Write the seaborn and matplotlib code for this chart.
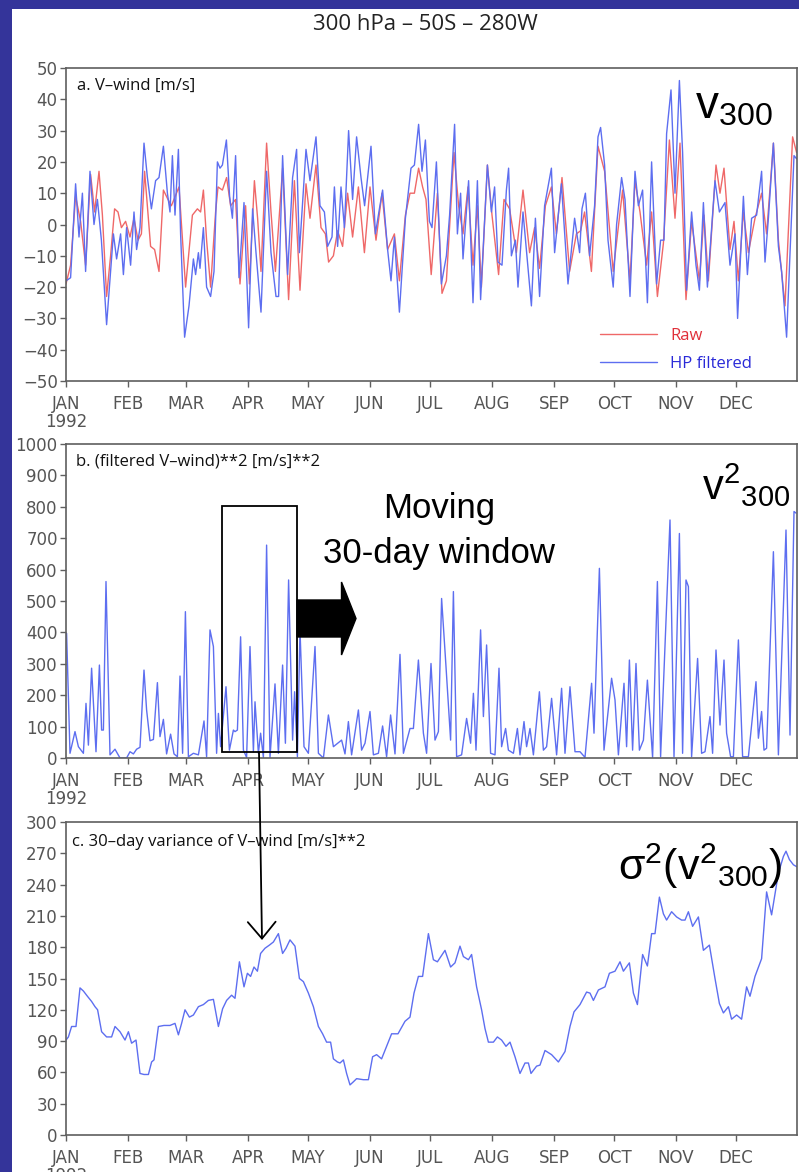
import numpy as np
import pandas as pd
import matplotlib
matplotlib.use("Agg")
import matplotlib.pyplot as plt
import matplotlib.patches as mpatches
import seaborn as sns

sns.set_style("ticks")
plt.rcParams['font.family'] = ['DejaVu Sans']
plt.rcParams['mathtext.fontset'] = 'custom'
plt.rcParams['mathtext.rm'] = 'Liberation Sans'
plt.rcParams['mathtext.it'] = 'Liberation Sans:italic'

# ---------------- data ----------------
month_days = [0, 31, 60, 91, 121, 152, 182, 213, 244, 274, 305, 335]
month_labels = ['JAN\n1992', 'FEB', 'MAR', 'APR', 'MAY', 'JUN',
                'JUL', 'AUG', 'SEP', 'OCT', 'NOV', 'DEC']

# panel a: HP filtered V-wind (day of year, m/s)
hp_day = [0, 2.3, 4.8, 6.5, 8.2, 9.8, 12, 14, 15.7, 17.7,
          20.3, 23.7, 25.3, 27.3, 28.7, 30.3, 32.3, 34, 35.3, 37,
          39, 40.7, 42.7, 44.8, 46.5, 48.7, 50.7, 52, 53.2, 54.5,
          56.2, 57.3, 59.3, 61.5, 63.7, 64.8, 66.2, 67, 68.7, 70.3,
          72.3, 74, 75.7, 77, 78.2, 80.2, 81.8, 83.2, 84.8, 86.5,
          89, 91.3, 93.3, 95, 97.5, 100.3, 102.5, 105, 106.3, 108.3,
          110.8, 113.3, 115.3, 116.7, 120, 122, 125, 127, 129.2, 130.8,
          133, 134.2, 135.8, 137.5, 139.2, 141.3, 143.3, 145.3, 147.5, 149.3,
          152.5, 154.7, 156.7, 158.3, 160.8, 162.5, 164.2, 166.7, 169.7, 172.5,
          174.2, 176.3, 178, 179.7, 181.7, 183, 185.2, 187.7, 190.2, 191.8,
          194.3, 195.7, 197.3, 198.5, 201.3, 203.5, 205.7, 207.3, 210.7, 212.7,
          214.3, 216, 218, 220.2, 221.3, 222.7, 224.7, 226, 228.5, 232.7,
          234.7, 236.8, 239.3, 242.7, 244.3, 247.7, 251, 254.3, 256.8, 258,
          259.7, 261.8, 264.3, 266, 267.3, 269.3, 271, 273.6, 275.3, 277.8,
          279.5, 282, 284.5, 286.2, 288.3, 290.7, 292.8, 295.3, 297.3, 299,
          300.3, 302.5, 304.5, 306.7, 308.3, 310.3, 312.8, 315, 316.7, 318.7,
          320.7, 324.5, 326.7, 329.5, 332, 334.5, 335.8, 338.7, 340.7, 342.8,
          345.3, 347.8, 349.5, 351.2, 353.7, 356.2, 357.8, 360.3, 364, 365.3]
hp_val = [-18, -17, 13, -4, 10, -15, 17, 0, 8, -5,
          -32, -3, -11, -3, -16, -1, -13, 4, -8, -1,
          26, 15, 5, 14, 15, 25, 10, 4, 22, 3,
          24, -3, -36, -26, -11, -16, -9, -14, -1, -20,
          -23, -15, 20, 18, 19, 27, 9, 2, 22, -17,
          7, -33, 5, -9, -28, 17, -9, -23, -23, 22,
          -16, 15, 24, -9, 24, 14, 28, 6, 4, -7,
          -4, 12, -7, 12, -1, 30, 8, 28, 15, 6,
          25, -3, 5, 11, -8, -18, -4, -28, 2, 18,
          19, 32, 17, 27, 1, -1, 20, -19, -10, 3,
          32, -3, 10, -11, 14, -25, 14, -24, 19, 4,
          12, -12, -13, 11, 18, -10, -5, -20, 4, -26,
          2, -23, 6, 18, -9, 13, -19, 2, -9, 5,
          10, -10, 6, 28, 31, 19, -5, -20, 0, 15,
          8, -23, 17, 6, 11, -25, 20, -19, -5, -5,
          29, 43, 10, 46, 23, -21, 4, -13, -21, 7,
          -20, 14, 4, 7, -13, -3, -30, 9, -16, 2,
          3, 17, -12, 2, 26, -7, -15, -36, 22, 21]

# panel a: raw V-wind
raw_day = [0, 2.3, 4.8, 7.3, 9.8, 12.3, 14.3, 16.5, 18.2, 20.3,
           22.3, 24.3, 26, 27.7, 29.8, 32, 34, 36, 37.7, 39.3,
           42.3, 44.3, 46.5, 48.7, 51, 52.7, 56.5, 59.8, 63.2, 65.7,
           67.3, 68.7, 70.3, 72.3, 74.8, 76, 78.2, 80.3, 82.3, 84.8,
           87, 89.8, 91.7, 94.2, 95.8, 97.5, 100.3, 102.5, 104.7, 108.3,
           111.3, 114.2, 117, 120, 122, 125, 127.5, 129.7, 131.3, 133.7,
           135.8, 138.3, 140.8, 143.3, 146.2, 149.2, 152, 155, 158, 160.8,
           164.2, 166.7, 169.7, 172, 174.2, 176.3, 178.3, 180, 182.6, 185.7,
           188, 190.2, 194, 196.3, 198.5, 201, 203.5, 205.7, 207.7, 210.7,
           213, 216.3, 219, 221.8, 225.2, 228.5, 231.8, 234.3, 236.8, 239.7,
           242.7, 245.2, 248, 251.8, 255.2, 257.3, 259.3, 262.7, 266, 269.3,
           273.6, 278.3, 282, 284.5, 287, 290.3, 292.8, 295.7, 298.7, 301.7,
           304.5, 307, 310, 312.8, 316.7, 319, 321.2, 325, 327, 329,
           332, 334, 336.2, 338.7, 341.2, 344.5, 347.8, 350.3, 353.7, 356.2,
           359.5, 363.3, 365.3]
raw_val = [-19, -13, 9, 1, -13, 16, 4, 17, 3, -23,
           -10, 5, 4, -1, 1, -4, 2, -5, -3, 17,
           -7, -8, -15, 11, 8, 6, 12, -20, 3, 5,
           4, 11, -5, -20, 4, 12, 11, 15, 6, 8,
           -19, 6, -19, 14, 2, -15, 26, 4, -15, 18,
           -24, 14, -21, 13, 2, 19, -1, -3, -12, -10,
           -2, -7, 10, -4, 12, -9, 12, -5, 10, -8,
           -3, -18, 3, 10, 10, 18, 12, 8, -16, 10,
           -22, -18, 23, 6, -3, 12, -13, 6, -20, 19,
           3, -16, 8, 5, -9, 11, -9, -1, -14, 6,
           12, -3, 15, -15, -3, -2, 4, -15, 25, 17,
           -15, 11, -18, 14, 4, -13, 4, -23, -6, 27,
           2, 26, -24, 1, -18, 3, -18, 19, 10, 18,
           -8, 1, -18, 4, -9, 2, 10, -3, 26, -5,
           -26, 28, 23]

# panel b: (filtered V-wind)**2
sq_day = [0.3, 2, 4.5, 6.2, 8.7, 10, 11.2, 12.8, 15, 16.7,
          17.8, 18.7, 20, 22, 24.5, 27, 30.3, 32, 33.7, 35.3,
          37, 39, 40.3, 42, 43.7, 45.7, 47, 48.7, 50.3, 52.3,
          54, 55.7, 57, 58.3, 59.7, 61.2, 63.7, 66.2, 69, 70.3,
          72, 73.7, 75.3, 76.2, 77.3, 80, 81.7, 83.7, 84.5, 85.7,
          87.3, 88.7, 90.3, 92, 93.7, 94.5, 96.2, 97.3, 98.7, 100.3,
          102, 104.5, 106.2, 108.3, 109.7, 111.3, 113.3, 114.3, 115.7, 117,
          119, 121.2, 124.5, 126.2, 128.7, 131.2, 133.7, 137.8, 139.5, 141.2,
          142.8, 146.2, 147.8, 149.5, 152, 153.7, 156.2, 158.3, 160.3, 162.3,
          164.5, 167, 168.7, 172, 173.7, 176.2, 178.7, 180.3, 182.5, 184.5,
          186.2, 187.8, 190, 192.3, 193.7, 195.3, 197.8, 200.3, 202.3, 203.7,
          205, 207.3, 208.7, 210.3, 212.3, 214.5, 216.5, 217.8, 219.8, 221.2,
          223.7, 225.7, 227, 229, 230.3, 232, 233.7, 236.7, 238.7, 240.3,
          242.8, 245.3, 247.8, 249.5, 252, 254.5, 257, 259.5, 262.8, 264,
          266.7, 269, 272.8, 274.5, 276.2, 279, 280.3, 281.7, 283.3, 285,
          286.7, 288.7, 290.7, 293.3, 295.7, 297.3, 302, 304, 306.7, 308.3,
          310, 311.2, 312.8, 315.8, 317.8, 319.5, 322, 323.3, 325, 327,
          329, 330.3, 332.3, 333.7, 336.2, 338.3, 341.2, 345, 346.2, 347.8,
          349, 350.3, 353.7, 356.2, 360, 362, 364, 365]
sq_val = [397, 15, 84, 36, 15, 174, 41, 286, 20, 296,
          89, 89, 562, 10, 28, 0, 0, 20, 13, 28,
          34, 280, 153, 55, 59, 240, 68, 123, 13, 76,
          13, 4, 261, 15, 466, 4, 15, 10, 118, 4,
          408, 355, 15, 142, 36, 227, 25, 89, 84, 89,
          386, 25, 2, 355, 20, 179, 15, 79, 2, 678,
          2, 236, 15, 296, 47, 567, 57, 211, 4, 408,
          36, 15, 355, 15, 0, 137, 36, 57, 13, 116,
          10, 153, 25, 47, 148, 10, 15, 102, 4, 137,
          13, 330, 15, 94, 94, 312, 79, 15, 301, 57,
          84, 508, 291, 57, 530, 4, 10, 126, 47, 206,
          25, 408, 132, 360, 15, 10, 286, 36, 94, 25,
          15, 94, 10, 116, 36, 94, 10, 211, 25, 36,
          190, 10, 222, 15, 227, 20, 20, 2, 238, 79,
          604, 25, 254, 185, 10, 238, 36, 312, 25, 301,
          25, 57, 248, 2, 562, 4, 758, 4, 715, 15,
          567, 546, 4, 317, 15, 20, 132, 15, 344, 105,
          312, 79, 4, 4, 376, 4, 4, 243, 63, 148,
          25, 31, 657, 10, 726, 73, 785, 780]

# panel c: 30-day variance of V-wind
var_day = [0, 1.2, 2.8, 5, 7, 8.7, 10.7, 12.8, 14.5, 15.8,
           17.8, 20.3, 22.8, 24.5, 27, 29.5, 31.2, 32.8, 35, 37,
           39, 41.2, 42.8, 44, 46.2, 49, 52, 54.5, 56.2, 57.8,
           59.5, 61.7, 63.7, 66.2, 68.7, 71.2, 73.7, 76.2, 78.3, 80.3,
           82.8, 84.5, 86.7, 89, 90.7, 92.3, 94, 95.7, 97.3, 99.5,
           101.7, 103.7, 106.2, 108.3, 110, 112, 114.5, 116.7, 118.7, 121.2,
           123.7, 126.2, 128.3, 130.3, 132.3, 133.7, 135.7, 137, 138.7, 140.3,
           142, 143.7, 145.3, 148.7, 151.2, 153.3, 155.3, 157.8, 160.3, 162.8,
           166, 169.5, 172, 174, 176.2, 178.3, 181.2, 183.7, 185.7, 189.5,
           192.3, 194.5, 197, 198.7, 201.2, 202.8, 205.3, 207.8, 209.5, 211.2,
           213.7, 215.7, 217.8, 220, 222, 224.5, 227, 229.5, 231.2, 232.5,
           235.3, 237, 239.5, 242.8, 246.2, 249.5, 252, 254, 257, 260.3,
           262, 263.7, 266.2, 269.5, 271.7, 274.5, 277, 278.7, 281.7, 283.7,
           285.7, 288.3, 290.7, 292.8, 294.5, 296.7, 298.7, 300.3, 302.8, 305.3,
           307.8, 309.5, 311.2, 313.3, 316.2, 318.7, 321.7, 324.5, 326.7, 328.7,
           331.2, 332.8, 335.3, 337.8, 340.3, 342, 344.5, 347.8, 350.3, 352.8,
           356.2, 358.7, 360, 361.7, 363.7, 365.5]
var_val = [91, 94, 104, 104, 141, 138, 133, 128, 123, 120,
           99, 94, 94, 104, 99, 91, 99, 88, 91, 59,
           58, 58, 70, 72, 104, 105, 105, 107, 96, 107,
           120, 113, 115, 123, 125, 129, 130, 104, 121, 129,
           134, 131, 166, 142, 155, 152, 161, 157, 174, 179,
           182, 185, 193, 174, 179, 187, 181, 150, 147, 136,
           123, 104, 97, 89, 89, 73, 70, 69, 72, 59,
           48, 51, 54, 53, 53, 75, 77, 73, 85, 97,
           97, 109, 113, 136, 152, 152, 193, 168, 166, 177,
           161, 165, 181, 171, 168, 173, 142, 120, 102, 89,
           89, 94, 91, 85, 89, 75, 59, 69, 69, 59,
           66, 67, 81, 77, 70, 80, 104, 118, 125, 137,
           136, 129, 139, 142, 155, 157, 166, 157, 165, 136,
           125, 173, 162, 193, 193, 228, 212, 206, 214, 209,
           206, 206, 214, 200, 209, 177, 182, 150, 126, 117,
           123, 111, 115, 111, 142, 133, 152, 169, 233, 211,
           251, 267, 272, 264, 259, 257]

# ---------------- figure ----------------
W, H = 799, 1172
fig = plt.figure(figsize=(W / 100, H / 100), dpi=100)
NAVY = '#34349a'
fig.patch.set_facecolor(NAVY)
fig.add_artist(mpatches.Rectangle((12 / W, 0), 1, 1 - 9 / H, transform=fig.transFigure,
                                  facecolor='white', edgecolor='none', zorder=-5))

def px_axes(top, bottom, left=66, right=797):
    return fig.add_axes([left / W, 1 - bottom / H, (right - left) / W, (bottom - top) / H])

ax_a = px_axes(68, 381)
ax_b = px_axes(444, 758)
ax_c = px_axes(822, 1135)

RAW = '#ef6868'
HP = '#5d6ef0'
SPINE = '#5f5f5f'
LABEL = '#555555'

sns.lineplot(x=raw_day, y=raw_val, ax=ax_a, color=RAW, lw=1.0, label='Raw',
             estimator=None, sort=False)
sns.lineplot(x=hp_day, y=hp_val, ax=ax_a, color=HP, lw=1.0, label='HP filtered',
             estimator=None, sort=False)
sns.lineplot(x=sq_day, y=sq_val, ax=ax_b, color=HP, lw=1.0, estimator=None, sort=False)
sns.lineplot(x=var_day, y=var_val, ax=ax_c, color=HP, lw=1.0, estimator=None, sort=False)

def style(ax, yticks):
    ax.set_xlim(0, 365.5)
    ax.set_ylim(yticks[0], yticks[-1])
    ax.set_yticks(yticks)
    ax.set_xticks(month_days)
    ax.set_xticklabels(month_labels)
    for lbl in ax.get_xticklabels():
        lbl.set_linespacing(1.0)
    ax.tick_params(direction='out', length=4, width=1, colors=SPINE,
                   labelcolor=LABEL, labelsize=12, pad=2)
    ax.tick_params(axis='x', pad=6)
    for s in ax.spines.values():
        s.set_visible(True)
        s.set_color(SPINE)
        s.set_linewidth(1.2)
    ax.set_xlabel('')
    ax.set_ylabel('')
    ax.set_facecolor('white')

style(ax_a, list(range(-50, 51, 10)))
style(ax_b, list(range(0, 1001, 100)))
style(ax_c, list(range(0, 301, 30)))

title_kw = dict(fontfamily='Open Sans', fontsize=12, color='#111111', va='center')
ax_a.text(0.015, 0.943, 'a. V\u2013wind [m/s]', transform=ax_a.transAxes, **title_kw)
ax_b.text(0.014, 0.943, 'b. (filtered V\u2013wind)**2 [m/s]**2', transform=ax_b.transAxes, **title_kw)
ax_c.text(0.008, 0.936, 'c. 30\u2013day variance of V\u2013wind [m/s]**2', transform=ax_c.transAxes, **title_kw)

fig.text(425 / W, 1 - 24 / H, '300 hPa \u2013 50S \u2013 280W', ha='center', va='center',
         fontsize=16, fontfamily='Open Sans', color='#222222')

leg = ax_a.legend(loc='center left', bbox_to_anchor=(0.7305, 0.099), frameon=False,
                  handlelength=3.4, handletextpad=0.8, labelspacing=0.75,
                  borderpad=0, borderaxespad=0, prop={'family': 'Open Sans', 'size': 12})
for t, c in zip(leg.get_texts(), ['#e0303a', '#2a2ad8']):
    t.set_color(c)

ann = dict(fontfamily='Liberation Sans', color='black', va='baseline')
ax_a.text(0.8605, 0.840, r'$\mathregular{v_{300}}$', transform=ax_a.transAxes, fontsize=33, **ann)
ax_b.text(0.870, 0.8217, r'$\mathregular{v^{2}{}_{300}}$', transform=ax_b.transAxes, fontsize=30, **ann)
ax_c.text(0.755, 0.815, r'$\mathregular{σ^{2}(v^{2}{}_{300})}$', transform=ax_c.transAxes, fontsize=31, **ann)
ax_b.text(0.510, 0.764, 'Moving', transform=ax_b.transAxes, fontsize=25, ha='center', **ann)
ax_b.text(0.510, 0.621, '30-day window', transform=ax_b.transAxes, fontsize=25, ha='center', **ann)

# 30-day window box
ax_b.add_patch(mpatches.Rectangle((78, 19), 37.5, 783, fill=False, edgecolor='black',
                                  lw=1.3, zorder=5))

# fat arrow and thin arrow
fig.add_artist(mpatches.FancyArrow(2.97, (H - 618.5) / 100, 0.59, 0, width=0.37,
                                   head_width=0.73, head_length=0.145,
                                   length_includes_head=True, color='black',
                                   transform=fig.dpi_scale_trans, zorder=10))
fig.add_artist(mpatches.FancyArrowPatch((2.59, (H - 752) / 100), (2.62, (H - 940) / 100),
                                        arrowstyle='->,head_length=0.6,head_width=0.5',
                                        mutation_scale=20, color='black', lw=1.3,
                                        shrinkA=0, shrinkB=0,
                                        transform=fig.dpi_scale_trans, zorder=10))

fig.savefig('out.png', dpi=100, facecolor=fig.get_facecolor())
